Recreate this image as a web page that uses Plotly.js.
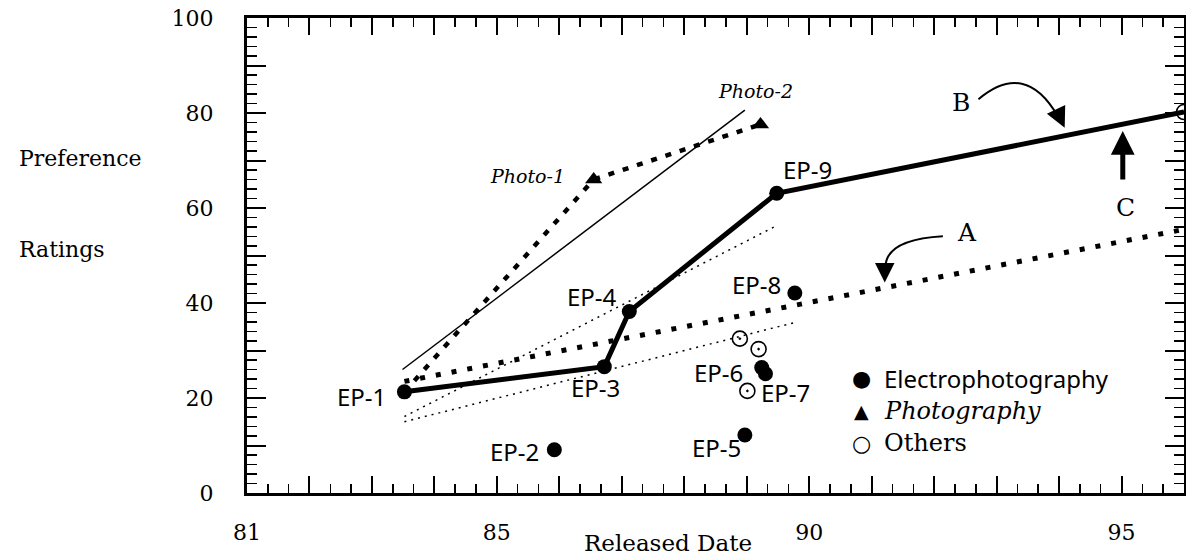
<!DOCTYPE html>
<html>
<head>
<meta charset="utf-8">
<script src="https://cdn.plot.ly/plotly-3.0.1.min.js"></script>
<style>html,body{margin:0;padding:0;background:#fff;}#chart{width:1186px;height:559px;}</style>
</head>
<body>
<div id="chart"></div>
<script>
// ---- data ----
const epNames  = ['EP-1','EP-2','EP-3','EP-4','EP-5','EP-6','EP-7','EP-8','EP-9'];
const epX      = [83.52, 85.92, 86.72, 87.12, 88.97, 89.24, 89.30, 89.77, 89.48];
const epY      = [21.3, 9.1, 26.6, 38.2, 12.2, 26.4, 25.1, 42.1, 63.1];

const photoNames = ['Photo-1','Photo-2'];
const photoX   = [86.55, 89.22];
const photoY   = [66.0, 77.6];

const othersX  = [88.89, 89.19, 89.01, 96.0];
const othersY  = [32.5, 30.3, 21.5, 80.2];

// trajectory B (solid thick): EP-1 -> EP-3 -> EP-4 -> EP-9 -> 96
const lineBX   = [83.52, 86.72, 87.12, 89.48, 96.0];
const lineBY   = [21.3, 26.6, 38.2, 63.1, 80.2];
// photography trajectory (heavy dotted)
const photoLineX = [83.52, 86.55, 89.22];
const photoLineY = [21.3, 66.0, 77.6];
// trend A (heavy dotted)
const lineAX   = [83.52, 96.0];
const lineAY   = [23.5, 55.5];
// thin solid trend
const thinX    = [83.49, 88.97];
const thinY    = [26.0, 80.6];
// thin dotted bounds
const dotUpX   = [83.52, 89.48];
const dotUpY   = [16.1, 56.3];
const dotLoX   = [83.52, 89.77];
const dotLoY   = [15.0, 35.9];

// label positions (data units)
const epLabelX = [82.83, 85.28, 86.58, 86.52, 88.52, 88.54, 89.62, 89.16, 89.98];
const epLabelY = [20.25, 8.65, 22.15, 41.35, 9.5, 25.3, 21.1, 43.9, 68.1];
const photoLabelX = [85.49, 89.14];
const photoLabelY = [66.7, 84.6];

const legendSymbols = ['●', '▲', '○'];
const legendLabels  = ['Electrophotography', '<i>Photography</i>', 'Others'];

const xTickVals = [81,82,83,84,85,86,87,88,89,90,91,92,93,94,95,96];
const xTickText = ['81','','','','85','','','','','90','','','','','95',''];
const yTickVals = [0,10,20,30,40,50,60,70,80,90,100];
const yTickText = ['0','','20','','40','','60','','80','','100'];

const SERIF = 'DejaVu Serif';
const SANS = 'Noto Sans';

const traces = [
  {x: dotUpX, y: dotUpY, mode:'lines', line:{color:'black', width:1.5, dash:'2px,5px'}, hoverinfo:'skip'},
  {x: dotLoX, y: dotLoY, mode:'lines', line:{color:'black', width:1.5, dash:'2px,5px'}, hoverinfo:'skip'},
  {x: thinX, y: thinY, mode:'lines', line:{color:'black', width:1.5}, hoverinfo:'skip'},
  {x: lineAX, y: lineAY, mode:'lines', line:{color:'black', width:5, dash:'5px,11px'}, hoverinfo:'skip'},
  {x: photoLineX, y: photoLineY, mode:'lines', line:{color:'black', width:4.5, dash:'6px,9px'}, hoverinfo:'skip'},
  {x: lineBX, y: lineBY, mode:'lines', line:{color:'black', width:5}, hoverinfo:'skip'},
  {x: epX, y: epY, text: epNames, mode:'markers', name:'Electrophotography',
   marker:{symbol:'circle', size:15, color:'black'}},
  {x: photoX, y: photoY, text: photoNames, mode:'markers', name:'Photography',
   marker:{symbol:'triangle-up', size:15, color:'black'}},
  {x: othersX, y: othersY, mode:'markers', name:'Others',
   marker:{symbol:'circle-open-dot', size:15, color:'black', line:{width:1.6, color:'black'}}}
];

const annotations = [];
epNames.forEach((n,i)=>annotations.push({x:epLabelX[i], y:epLabelY[i], text:n, showarrow:false,
  font:{family:SANS, size:24, color:'black'}}));
photoNames.forEach((n,i)=>annotations.push({x:photoLabelX[i], y:photoLabelY[i], text:'<i>'+n+'</i>', showarrow:false,
  font:{family:SERIF, size:19, color:'black'}}));
[['A',92.52,54.9],['B',92.43,82.3],['C',95.07,60.1]].forEach(a=>annotations.push({x:a[1], y:a[2], text:a[0], showarrow:false,
  font:{family:SERIF, size:25, color:'black'}}));
// arrow heads
annotations.push({x:95.02, y:76.2, ax:0, ay:50, text:'', showarrow:true, arrowhead:2, arrowwidth:5, arrowsize:0.95, arrowcolor:'black', standoff:0});
annotations.push({x:94.09, y:76.9, ax:-8, ay:-17, text:'', showarrow:true, arrowhead:2, arrowwidth:1.5, arrowsize:2.7, arrowcolor:'black', standoff:0});
annotations.push({x:91.21, y:44.3, ax:0, ay:-16, text:'', showarrow:true, arrowhead:2, arrowwidth:1.5, arrowsize:2.6, arrowcolor:'black', standoff:0});
// legend (drawn as text)
const legY = [0.242, 0.173, 0.105];
const legSymSize = [22, 19, 22];
const legFonts = [SANS, SERIF, SERIF];
legendSymbols.forEach((s,i)=>{
  annotations.push({xref:'paper', yref:'paper', x:0.656, y:legY[i], xanchor:'center', yanchor:'middle', text:s, showarrow:false,
    font:{family:'DejaVu Sans', size:legSymSize[i], color:'black'}});
  annotations.push({xref:'paper', yref:'paper', x:0.6775, y:legY[i], xanchor:'left', yanchor:'middle', text:legendLabels[i], showarrow:false,
    font:{family:legFonts[i], size:24, color:'black'}});
});
// axis titles
annotations.push({xref:'paper', yref:'paper', x:-0.245, y:0.705, xanchor:'left', yanchor:'middle', text:'Preference', showarrow:false, font:{family:SERIF, size:22, color:'black'}});
annotations.push({xref:'paper', yref:'paper', x:-0.245, y:0.512, xanchor:'left', yanchor:'middle', text:'Ratings', showarrow:false, font:{family:SERIF, size:22, color:'black'}});
annotations.push({xref:'paper', yref:'paper', x:0.449, y:-0.105, xanchor:'center', yanchor:'middle', text:'Released Date', showarrow:false, font:{family:SERIF, size:23, color:'black'}});

const shapes = [
  {type:'path', xref:'x', yref:'y', path:'M 92.71,82.9 Q 93.46,91.2 93.98,79.3', line:{color:'black', width:2}},
  {type:'path', xref:'x', yref:'y', path:'M 92.14,54.07 Q 91.22,53.38 91.22,47.47', line:{color:'black', width:2}}
];

const layout = {
  width:1186, height:559,
  margin:{l:247, r:2, t:18, b:66},
  paper_bgcolor:'white', plot_bgcolor:'white',
  showlegend:false,
  xaxis:{range:[81,96], tickmode:'array', tickvals:xTickVals, ticktext:xTickText,
    ticks:'inside', ticklen:17, tickwidth:2, tickcolor:'black',
    showline:true, linewidth:3, linecolor:'black', mirror:'ticks', showgrid:false, zeroline:false,
    tickfont:{family:SERIF, size:22, color:'black'}, ticklabelstandoff:18,
    minor:{tickmode:'linear', tick0:81, dtick:1/3, ticks:'inside', ticklen:9, tickwidth:1.5, tickcolor:'black', showgrid:false}},
  yaxis:{range:[0,100], tickmode:'array', tickvals:yTickVals, ticktext:yTickText,
    ticks:'inside', ticklen:19, tickwidth:2, tickcolor:'black',
    showline:true, linewidth:3, linecolor:'black', mirror:'ticks', showgrid:false, zeroline:false,
    tickfont:{family:SERIF, size:22, color:'black'}, ticklabelstandoff:26,
    minor:{tickmode:'linear', tick0:0, dtick:2, ticks:'inside', ticklen:10, tickwidth:1.5, tickcolor:'black', showgrid:false}},
  annotations: annotations,
  shapes: shapes
};

Plotly.newPlot('chart', traces, layout, {displayModeBar:false, staticPlot:true});
</script>
</body>
</html>
